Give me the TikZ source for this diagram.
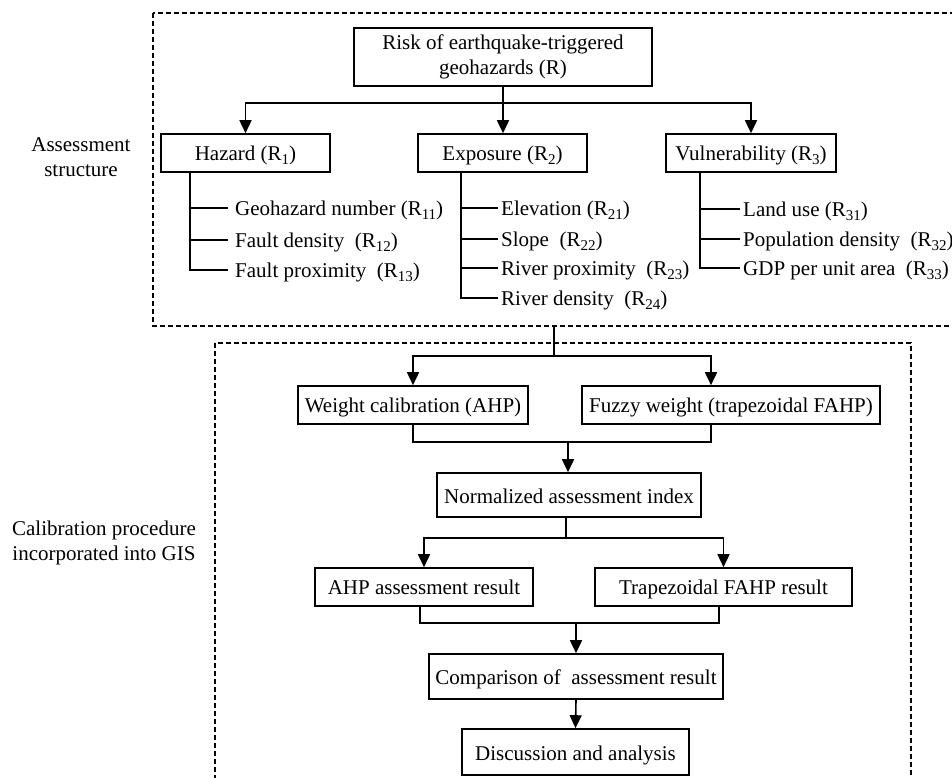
\documentclass[tikz,border=0pt]{standalone}
\usepackage{fontspec}
\setmainfont{Liberation Serif}
\usetikzlibrary{arrows.meta,calc}
\newcommand\subidx[1]{\raisebox{-4pt}{\fontsize{15}{15}\selectfont #1}}
\begin{document}
\begin{tikzpicture}[x=1pt,y=-1pt,
  font=\fontsize{21}{25}\selectfont,
  box/.style={draw,line width=1.6pt,inner sep=0pt,align=center},
  sbox/.style={box,text height=15pt,text depth=0pt},
  leaf/.style={anchor=west,inner ysep=0pt,inner xsep=3pt,text height=14pt,text depth=0pt},
  link/.style={line width=1.6pt},
  arr/.style={link,-{Triangle[length=13pt,width=12pt]}},
  frame/.style={line width=2pt,dash pattern=on 5pt off 3pt},
  side/.style={align=center,inner sep=0pt}]
\useasboundingbox (0,0) rectangle (952,778);
\fill[white] (0,0) rectangle (952,778);
\clip (0,0) rectangle (952,778);

% frames
\draw[frame] (153,13) rectangle (965,326);
\draw[frame] (215,343) rectangle (911,795);

% side labels
\node[side] (L1) at (81,157) {Assessment\\structure};
\node[side] (L2) at (104,543) {Calibration procedure\\incorporated into GIS};

% top structure
\node[box,minimum width=298pt,minimum height=58pt] (R) at (503,57) {Risk of earthquake-triggered\\geohazards (R)};
\node[sbox,minimum width=169pt,minimum height=38pt] (Haz) at (245.5,153) {Hazard (R\subidx{1})};
\node[sbox,minimum width=169pt,minimum height=38pt] (Exp) at (502.5,153) {Exposure (R\subidx{2})};
\node[sbox,minimum width=170pt,minimum height=38pt] (Vul) at (751,153) {Vulnerability (R\subidx{3})};

\coordinate (b1) at (503,103);
\draw[link] (R.south) -- (b1);
\draw[arr] (b1) -| (Haz.north);
\draw[arr] (b1) -| (Vul.north);
\draw[arr] (b1) -- (b1 |- Exp.north);

% leaves
\node[leaf,inner xsep=7pt] (h11) at (228,208) {Geohazard number (R\subidx{11})};
\node[leaf,inner xsep=7pt] (h12) at (228,240) {Fault density~ (R\subidx{12})};
\node[leaf,inner xsep=7pt] (h13) at (228,270) {Fault proximity~ (R\subidx{13})};
\node[leaf] (e21) at (498,208) {Elevation (R\subidx{21})};
\node[leaf] (e22) at (498,239) {Slope~ (R\subidx{22})};
\node[leaf] (e23) at (498,268) {River proximity~ (R\subidx{23})};
\node[leaf] (e24) at (498,298) {River density~ (R\subidx{24})};
\node[leaf] (v31) at (740,209) {Land use (R\subidx{31})};
\node[leaf] (v32) at (740,239) {Population density~ (R\subidx{32})};
\node[leaf] (v33) at (740,268) {GDP per unit area~ (R\subidx{33})};

\coordinate (ht) at ([xshift=30pt]Haz.south west);
\draw[link] (ht) |- (h13.west);
\draw[link] (ht |- h11.west) -- (h11.west);
\draw[link] (ht |- h12.west) -- (h12.west);

\coordinate (et) at ([xshift=44pt]Exp.south west);
\draw[link] (et) |- (e24.west);
\draw[link] (et |- e21.west) -- (e21.west);
\draw[link] (et |- e22.west) -- (e22.west);
\draw[link] (et |- e23.west) -- (e23.west);

\coordinate (vt) at ([xshift=35pt]Vul.south west);
\draw[link] (vt) |- (v33.west);
\draw[link] (vt |- v31.west) -- (v31.west);
\draw[link] (vt |- v32.west) -- (v32.west);

% lower procedure
\node[sbox,minimum width=230pt,minimum height=38pt] (W) at (413,405) {Weight calibration (AHP)};
\node[sbox,minimum width=298pt,minimum height=38pt] (F) at (731,405) {Fuzzy weight (trapezoidal FAHP)};
\node[sbox,text height=16pt,minimum width=264pt,minimum height=44pt] (N) at (569,495) {Normalized assessment index};
\node[sbox,minimum width=218pt,minimum height=38pt] (A) at (424,587) {AHP assessment result};
\node[sbox,minimum width=257pt,minimum height=38pt] (T) at (723.5,587) {Trapezoidal FAHP result};
\node[sbox,text height=16pt,minimum width=294pt,minimum height=45pt] (C) at (576,676.5) {Comparison of~ assessment result};
\node[sbox,text height=16pt,minimum width=227pt,minimum height=46pt] (D) at (575.5,752) {Discussion and analysis};

\coordinate (o1) at (554,326);
\coordinate (b2) at (554,356);
\draw[link] (o1) -- (b2);
\draw[arr] (b2) -| (W.north);
\draw[arr] (b2) -| ([xshift=-20pt]F.north);

\coordinate (m1) at (568,442);
\draw[link] (W.south) |- (m1) -| ([xshift=-20pt]F.south);
\draw[arr] (m1) -- (m1 |- N.north);

\coordinate (s2) at (566,538);
\draw[link] (s2 |- N.south) -- (s2);
\draw[arr] (s2) -| (A.north);
\draw[arr] (s2) -| (T.north);

\coordinate (m3) at (576,623);
\draw[link] ([xshift=-4pt]A.south) |- (m3) -| ([xshift=-4.5pt]T.south);
\draw[arr] (m3) -- (C.north);
\draw[arr] (C.south) -- (D.north);
\end{tikzpicture}
\end{document}
